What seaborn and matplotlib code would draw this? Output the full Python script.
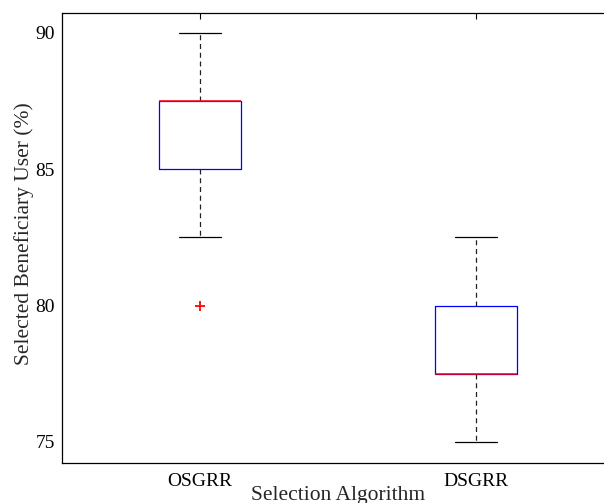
import numpy as np
import matplotlib
matplotlib.use('Agg')
import matplotlib.pyplot as plt
import pandas as pd
import seaborn as sns

# valores (percentual de usuarios beneficiarios selecionados)
algoritmos = ['OSGRR', 'DSGRR']
osgrr = [80, 82.5, 85, 85, 87.5, 87.5, 87.5, 87.5, 90]
dsgrr = [75, 77.5, 77.5, 77.5, 77.5, 80, 80, 80, 82.5]
yticks = [75, 80, 85, 90]

df = pd.DataFrame({
    'Selection Algorithm': [algoritmos[0]] * len(osgrr) + [algoritmos[1]] * len(dsgrr),
    'Selected': osgrr + dsgrr,
})

sns.set_style('white')
plt.rcParams['font.family'] = ['Liberation Serif', 'DejaVu Serif']

fig = plt.figure(figsize=(6.04, 5.03), dpi=100)
ax = fig.add_axes([62 / 604, 1 - 463 / 503, 552 / 604, 450 / 503])

sns.boxplot(data=df, x='Selection Algorithm', y='Selected', order=algoritmos,
            width=0.3, fill=False, whis=1.5, ax=ax,
            boxprops={'color': 'blue', 'linewidth': 0.9},
            medianprops={'color': 'red', 'linewidth': 1.1, 'zorder': 5},
            whiskerprops={'color': '#222222', 'linestyle': (0, (4, 3)), 'linewidth': 0.9},
            capprops={'color': 'black', 'linewidth': 0.9},
            flierprops={'marker': '+', 'markeredgecolor': 'red', 'markersize': 7,
                        'markeredgewidth': 1.3})

ax.set_xlim(-0.5, 1.5)
ax.set_ylim(74.23, 90.73)
ax.set_yticks(yticks)
ax.set_xlabel('Selection Algorithm', fontsize=15.5, labelpad=-3)
ax.set_ylabel('Selected Beneficiary User (%)', fontsize=15.5, labelpad=1)
ax.yaxis.label.set_y(0.51)
ax.tick_params(direction='in', top=True, right=True, length=4, width=0.8,
               labelsize=14, colors='black')
ax.tick_params(axis='x', pad=7)
ax.tick_params(axis='y', pad=5)
for s in ax.spines.values():
    s.set_color('black')
    s.set_linewidth(0.9)

fig.savefig('out.png', dpi=100)
